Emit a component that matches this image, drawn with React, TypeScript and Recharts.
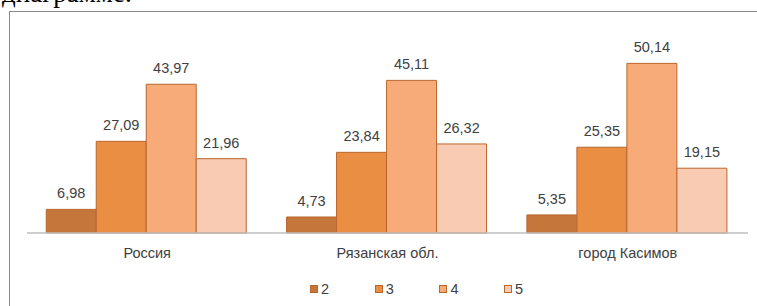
import React from 'react';
import { BarChart, Bar, XAxis, YAxis, Legend, LabelList } from 'recharts';

const categories = ['Россия', 'Рязанская обл.', 'город Касимов'];
const seriesNames = ['2', '3', '4', '5'];
const grade2 = [6.98, 4.73, 5.35];
const grade3 = [27.09, 23.84, 25.35];
const grade4 = [43.97, 45.11, 50.14];
const grade5 = [21.96, 26.32, 19.15];
const colors = ['#C5763A', '#E98E43', '#F6AB78', '#F8CBB2'];
const strokeColor = '#BA662E';

const seriesValues = [grade2, grade3, grade4, grade5];
const data = categories.map((name, i) => {
  const row: Record<string, any> = { name };
  seriesNames.forEach((s, k) => {
    row['s' + s] = seriesValues[k][i];
  });
  return row;
});

const fmt = (v: any) => String(v).replace('.', ',');
const FONT = '"Liberation Sans", Arial, sans-serif';

const LegendContent = (props: any) => {
  const { payload } = props;
  return (
    <div style={{ display: 'flex', fontFamily: FONT, fontSize: 14.5, color: '#404040' }}>
      {(payload || []).map((p: any) => (
        <div key={p.value} style={{ width: 64.7, display: 'flex', alignItems: 'center' }}>
          <span
            style={{
              display: 'inline-block',
              width: 6,
              height: 6,
              background: p.color,
              border: `1px solid ${strokeColor}`,
              marginRight: 3,
            }}
          />
          <span style={{ lineHeight: '16px' }}>{p.value}</span>
        </div>
      ))}
    </div>
  );
};

export default function App() {
  return (
    <div style={{ position: 'absolute', left: 0, top: 0, width: 757, height: 306, overflow: 'hidden', background: '#fff' }}>
      <div
        style={{
          position: 'absolute',
          left: 2,
          top: -22,
          fontFamily: '"Liberation Serif", "Times New Roman", serif',
          fontSize: 27,
          lineHeight: '30px',
          color: '#000',
          whiteSpace: 'nowrap',
        }}
      >
        диаграмме.
      </div>
      <div
        style={{
          position: 'absolute',
          left: 9,
          top: 11,
          width: 800,
          height: 400,
          border: '1px solid #8a8a8a',
          boxSizing: 'border-box',
        }}
      />
      <div style={{ position: 'absolute', left: 0, top: 0 }}>
        <BarChart
          width={757}
          height={306}
          data={data}
          margin={{ top: 30, right: 9, left: 27, bottom: 43 }}
          barCategoryGap="8%"
          barGap={0}
        >
          <XAxis
            dataKey="name"
            height={30}
            tickLine={false}
            tickSize={0}
            tickMargin={15}
            axisLine={{ stroke: '#BFBFBF', strokeWidth: 1.5 }}
            tick={{ fill: '#404040', fontSize: 14.5, fontFamily: FONT }}
          />
          <YAxis hide domain={[0, 60]} />
          <Legend
            verticalAlign="middle"
            align="center"
            layout="horizontal"
            content={<LegendContent />}
            wrapperStyle={{ top: 281, left: 310, width: 270 }}
          />
          {seriesNames.map((s, k) => (
            <Bar
              key={s}
              dataKey={'s' + s}
              name={s}
              fill={colors[k]}
              stroke={strokeColor}
              strokeWidth={1}
              isAnimationActive={false}
            >
              <LabelList
                dataKey={'s' + s}
                position="top"
                offset={11}
                formatter={fmt}
                style={{ fill: '#404040', fontSize: 14.5, fontFamily: FONT }}
              />
            </Bar>
          ))}
        </BarChart>
      </div>
    </div>
  );
}
